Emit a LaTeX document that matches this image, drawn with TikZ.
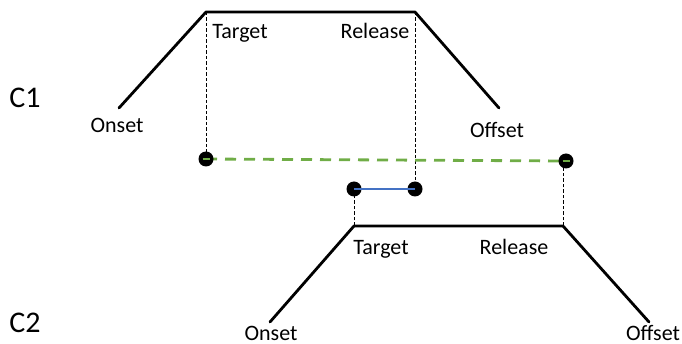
\documentclass[tikz,border=0pt]{standalone}
\usepackage{fontspec}
\setmainfont{Carlito}
\definecolor{gesturegreen}{HTML}{70AD47}
\definecolor{overlapblue}{HTML}{4472C4}
\begin{document}
\begin{tikzpicture}[x=1pt,y=-1pt,
  trajectory/.style={line width=2.8pt,line join=round,line cap=round},
  guide/.style={line width=0.9pt,dash pattern=on 3.5pt off 2pt},
  lagline/.style={gesturegreen,line width=2.8pt,dash pattern=on 11pt off 8pt},
  overlap/.style={overlapblue,line width=2pt},
  dotmark/.style={circle,fill=black,inner sep=0pt,minimum size=15pt},
  gdot/.style={dotmark,path picture={\draw[gesturegreen,line width=2.5pt]
      ([xshift=-3.5pt]path picture bounding box.center) --
      ([xshift=3.5pt]path picture bounding box.center);}},
  lbl/.style={font=\fontsize{22}{26}\selectfont,inner sep=0pt,anchor=base},
  rowlbl/.style={font=\fontsize{30}{34}\selectfont,inner sep=0pt,anchor=base}]
\useasboundingbox (0,0) rectangle (682,344);

% gesture C1 trajectory
\coordinate (c1on)  at (119,108);
\coordinate (c1tg)  at (206,12);
\coordinate (c1rl)  at (415,12);
\coordinate (c1off) at (499,108);
% gesture C2 trajectory
\coordinate (c2on)  at (270,322);
\coordinate (c2tg)  at (354,226);
\coordinate (c2rl)  at (563,226);
\coordinate (c2off) at (649,322);
% landmark points
\coordinate (p1) at (206,159);
\coordinate (p2) at (566,161);
\coordinate (q1) at (354,189);
\coordinate (q2) at (415,189);

\draw[trajectory] (c1on) -- (c1tg) -- (c1rl) -- (c1off);
\draw[trajectory] (c2on) -- (c2tg) -- (c2rl) -- (c2off);

% projections of the landmarks
\draw[guide] (c1tg) -- (p1);
\draw[guide] (c1rl) -- (q2);
\draw[guide] (c2tg) -- (q1);
\draw[guide] (c2rl) -- (c2rl |- p2);

% lag between the two gestures
\draw[lagline] (p1) -- (p2);

\node[gdot]     (d1) at (p1) {};
\node[gdot]     (d2) at (p2) {};
\node[dotmark]  (d3) at (q1) {};
\node[dotmark]  (d4) at (q2) {};

% overlap interval
\draw[overlap] (d3.center) -- (d4.center);

% labels
\node[rowlbl] (lc1) at (25,108) {C1};
\node[rowlbl] (lc2) at (25,332) {C2};
\node[lbl] (t1)  at (240,39)  {Target};
\node[lbl] (r1)  at (375,39)  {Release};
\node[lbl] (o1)  at (117,133) {Onset};
\node[lbl] (f1)  at (497,138) {Offset};
\node[lbl] (t2)  at (381,255) {Target};
\node[lbl] (r2)  at (514,255) {Release};
\node[lbl] (o2)  at (271,340) {Onset};
\node[lbl] (f2)  at (653,340) {Offset};
\end{tikzpicture}
\end{document}
